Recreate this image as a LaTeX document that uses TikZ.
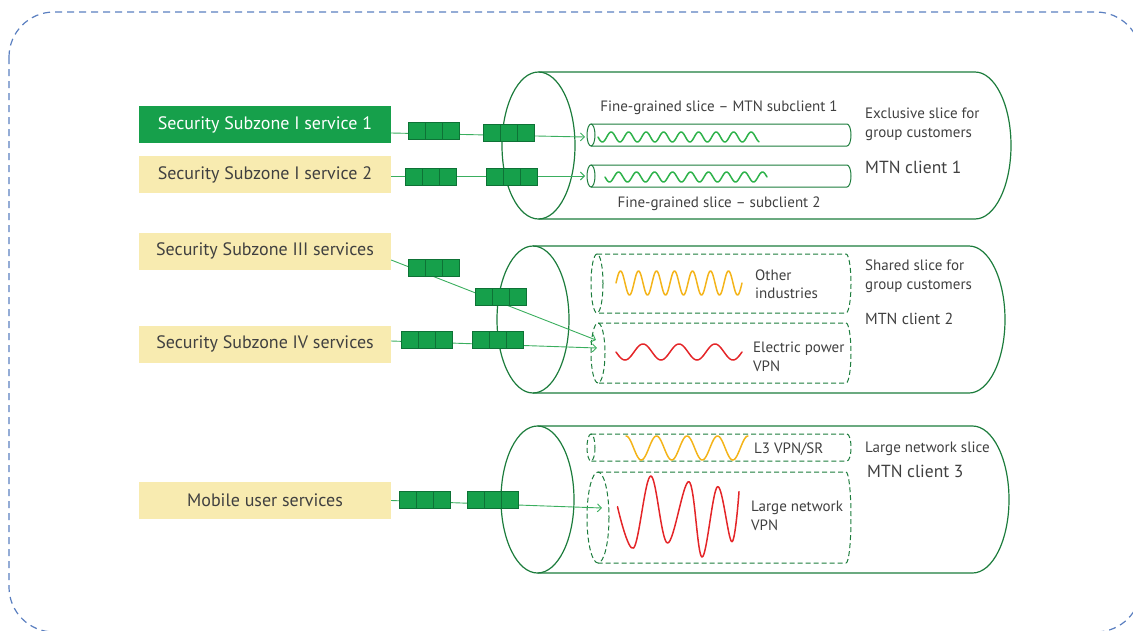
\documentclass[tikz,border=0pt]{standalone}
\usepackage{fontspec}
\setmainfont{PT Sans}
\usetikzlibrary{arrows.meta}

\definecolor{qfill}{HTML}{16A04B}
\definecolor{qedge}{HTML}{0E7236}
\definecolor{svcyellow}{HTML}{F8EBB0}
\definecolor{tubeline}{HTML}{1C7C3C}
\definecolor{linkgreen}{HTML}{3AAE5E}
\definecolor{frameblue}{HTML}{5A7FC0}
\definecolor{txt}{HTML}{404040}
\definecolor{wgreen}{HTML}{2DB24A}
\definecolor{worange}{HTML}{F4B41A}
\definecolor{wred}{HTML}{E42528}

% a see-through tube: full ellipse on the left, half ellipse on the right
% #1 left centre x, #2 right centre x, #3 top y, #4 bottom y,
% #5 left x radius, #6 right x radius, #7 style
\newcommand\slicetube[7]{%
  \draw[#7] (#1,{(#3+#4)/2}) ellipse[x radius=#5, y radius={(#4-#3)/2}];
  \draw[#7] (#1,#3) -- (#2,#3)
    arc[start angle=-90, end angle=90, x radius=#6, y radius={(#4-#3)/2}]
    -- (#1,#4);
}

\tikzset{
  outer/.style={draw=tubeline, line width=1.2pt},
  inner/.style={draw=tubeline, line width=1pt},
  innerdash/.style={draw=tubeline, line width=1pt, dash pattern=on 5pt off 3pt},
  svcbox/.style={minimum width=252pt, minimum height=37pt, inner sep=0pt,
    font=\fontsize{18}{21}\selectfont, text=txt, fill=svcyellow},
  queue/.style={draw=qedge, fill=qfill, minimum width=51pt, minimum height=17pt,
    inner sep=0pt, line width=0.6pt,
    path picture={\draw[qedge, line width=0.6pt]
      ([xshift=17pt]path picture bounding box.south west) --
      ([xshift=17pt]path picture bounding box.north west)
      ([xshift=-17pt]path picture bounding box.south east) --
      ([xshift=-17pt]path picture bounding box.north east);}},
  conn/.style={draw=linkgreen, line width=0.9pt,
    -{Straight Barb[length=4pt,width=8pt]}},
  lbl/.style={text=txt, font=\fontsize{15}{19}\selectfont, inner sep=0pt,
    align=left, anchor=west},
  big/.style={text=txt, font=\fontsize{17.5}{20}\selectfont, inner sep=0pt, anchor=west},
  wave/.style={line width=1.5pt, line cap=round, line join=round},
}

\begin{document}
\begin{tikzpicture}[x=1pt, y=-1pt]
\useasboundingbox (0,0) rectangle (1133,630);

% dashed frame
\draw[frameblue, line width=1.2pt, dash pattern=on 7pt off 5pt, rounded corners=45pt]
  (9,12) rectangle (1141,632);

% client tunnels
\slicetube{538.5}{975}{72}{219}{36.5}{36}{outer}
\slicetube{533}{969}{246}{393}{36}{36}{outer}
\slicetube{537.5}{972.5}{426}{573}{36.5}{36.5}{outer}

% slices inside MTN client 1
\slicetube{591}{847}{124}{146}{4}{4}{inner}
\slicetube{591}{847}{165}{187}{4}{4}{inner}
% slices inside MTN client 2
\slicetube{597}{846}{254}{313}{6}{5}{innerdash}
\slicetube{598}{846}{323}{383}{7}{5}{innerdash}
% slices inside MTN client 3
\slicetube{591}{847}{434}{461}{4}{4}{innerdash}
\slicetube{598}{846}{472}{563}{11}{5}{innerdash}

% traffic waves
\draw[wave, wgreen] plot[domain=0:161, samples=220] ({598+\x},{137+5*sin(\x*20.5714)});
\draw[wave, wgreen] plot[domain=0:162, samples=220] ({605+\x},{177+5*sin(\x*20)});
\draw[wave, worange] plot[domain=0:126, samples=220] ({616+\x},{283-12*sin(\x*20)});
\draw[wave, wred] plot[domain=0:126, samples=200] ({616+\x},{352+8*sin(\x*10)});
\draw[wave, worange] plot[domain=0:122, samples=200] ({626+\x},{448-12*cos(\x*11.803)});
\draw[wave, wred] plot[smooth, tension=0.6] coordinates {
  (617.5,506.7) (633.6,548) (650.7,476) (667.5,543) (689,481.7)
  (702,557) (717.5,486.7) (731.8,541.7) (739,491.7)};

% labels
\node[lbl, anchor=center] (s1) at (719,108) {Fine-grained slice – MTN subclient 1};
\node[lbl, anchor=center] (s2) at (719,204) {Fine-grained slice – subclient 2};
\node[lbl] (c1d) at (865,124.5) {Exclusive slice for\\group customers};
\node[big] (c1) at (865,167) {MTN client 1};
\node[lbl, font=\fontsize{15}{18}\selectfont] (oi) at (755,284) {Other\\industries};
\node[lbl] (ep) at (753,356.5) {Electric power\\VPN};
\node[lbl] (c2d) at (865,276.5) {Shared slice for\\group customers};
\node[big, font=\fontsize{16}{19}\selectfont] (c2) at (865,319) {MTN client 2};
\node[lbl] (l3) at (754,449) {L3 VPN/SR};
\node[lbl] (ln) at (751,515.5) {Large network\\VPN};
\node[lbl] (c3d) at (865,449) {Large network slice};
\node[big] (c3) at (867,471) {MTN client 3};

% service boxes
\node[svcbox, fill=qfill, text=white] (b1) at (265,124.5) {Security Subzone I service 1};
\node[svcbox] (b2) at (265,174.5) {Security Subzone I service 2};
\node[svcbox] (b3) at (265,251) {Security Subzone III services};
\node[svcbox] (b4) at (265,344) {Security Subzone IV services};
\node[svcbox] (b5) at (265,500.5) {Mobile user services};

% arrow targets at the slice entrances
\coordinate (t1) at (585,137);
\coordinate (t2) at (585,176);
\coordinate (t3) at (596,340);
\coordinate (t4) at (597,348);
\coordinate (t5) at (602,508);

% flows
\draw[conn] ([yshift=-8.5pt]b1.east) -- (t1);
\draw[conn] ([yshift=-1.5pt]b2.east) -- (t2);
\draw[conn] ([yshift=-9pt]b3.east) -- (t3);
\draw[conn] ([yshift=3pt]b4.east) -- (t4);
\draw[conn] (b5.east) -- (t5);

% packet queues
\node[queue] (q1a) at (433.5,130.5) {};
\node[queue] (q1b) at (509,133) {};
\node[queue] (q2a) at (430.5,177) {};
\node[queue] (q2b) at (511.5,177) {};
\node[queue] (q3a) at (433.5,267.5) {};
\node[queue] (q3b) at (500.5,297) {};
\node[queue] (q4a) at (427,339.5) {};
\node[queue] (q4b) at (497.5,339.5) {};
\node[queue] (q5a) at (424.5,499.5) {};
\node[queue] (q5b) at (493,499.5) {};
\end{tikzpicture}
\end{document}
